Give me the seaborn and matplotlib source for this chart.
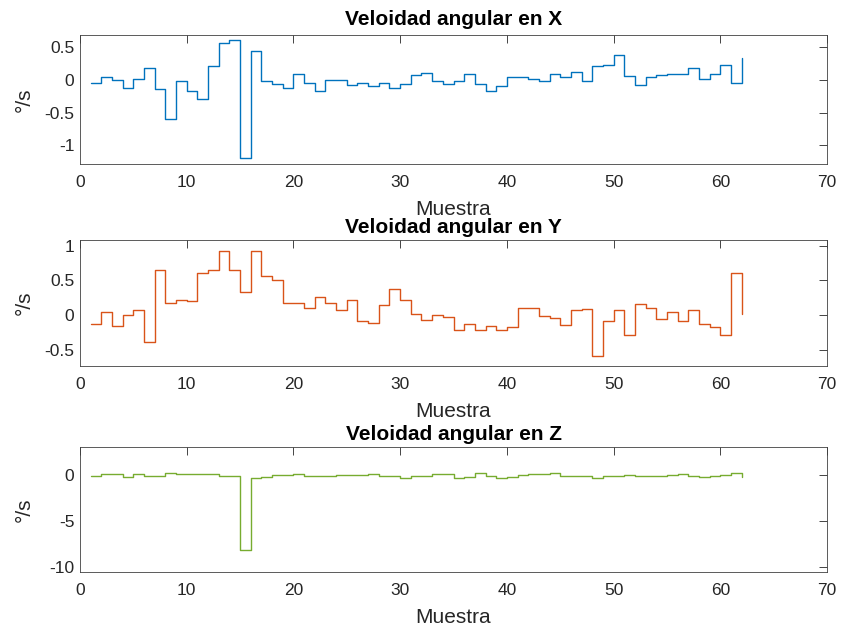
import matplotlib
matplotlib.use("Agg")
import matplotlib.pyplot as plt
import pandas as pd
import seaborn as sns

# Sample index and angular velocity readings (deg/s) per axis
muestra = list(range(1, 63))

vel_x = [-0.04, 0.04, 0.00, -0.13, 0.02, 0.19, -0.14, -0.60, -0.02, -0.17,
         -0.29, 0.22, 0.57, 0.62, -1.20, 0.44, -0.01, -0.06, -0.13, 0.09,
         -0.05, -0.17, 0.00, 0.00, -0.08, -0.05, -0.09, -0.05, -0.13, -0.06,
         0.08, 0.10, -0.02, -0.06, -0.02, 0.09, -0.06, -0.17, -0.09, 0.05,
         0.04, 0.02, -0.02, 0.09, 0.05, 0.12, -0.02, 0.21, 0.23, 0.38,
         0.06, -0.07, 0.05, 0.08, 0.09, 0.09, 0.19, 0.02, 0.09, 0.23,
         -0.04, 0.34]

vel_y = [-0.13, 0.04, -0.15, 0.00, 0.07, -0.38, 0.65, 0.17, 0.22, 0.20,
         0.60, 0.65, 0.92, 0.65, 0.34, 0.92, 0.57, 0.51, 0.17, 0.17,
         0.10, 0.26, 0.17, 0.08, 0.22, -0.08, -0.11, 0.14, 0.38, 0.22,
         0.01, -0.07, 0.00, -0.03, -0.21, -0.12, -0.21, -0.15, -0.21, -0.17,
         0.10, 0.10, -0.01, -0.04, -0.14, 0.08, 0.09, -0.59, -0.09, 0.07,
         -0.28, 0.16, 0.11, -0.06, 0.04, -0.09, 0.08, -0.12, -0.17, -0.29,
         0.60, 0.01]

vel_z = [-0.10, 0.17, 0.10, -0.15, 0.10, -0.10, -0.10, 0.25, 0.10, 0.20,
         0.20, 0.10, -0.05, -0.10, -8.20, -0.30, -0.15, 0.05, 0.05, 0.20,
         -0.10, -0.05, -0.05, 0.00, 0.05, 0.05, 0.10, -0.05, -0.05, -0.30,
         -0.05, -0.05, 0.10, 0.10, -0.25, -0.20, 0.25, -0.05, -0.25, -0.15,
         0.00, 0.15, 0.15, 0.25, -0.05, -0.05, -0.05, -0.25, -0.10, -0.10,
         0.05, -0.10, -0.10, -0.10, 0.05, 0.15, -0.05, -0.15, -0.05, 0.00,
         0.25, -0.15]

titulos = ["Veloidad angular en X", "Veloidad angular en Y", "Veloidad angular en Z"]
colores = ["#0072BD", "#D95319", "#77AC30"]
x_ticks = [0, 10, 20, 30, 40, 50, 60, 70]
y_ticks = [[-1, -0.5, 0, 0.5], [-0.5, 0, 0.5, 1], [-10, -5, 0]]
y_lims = [(-1.29, 0.69), (-0.73, 1.08), (-10.55, 3.1)]
title_pads = [7, 5, 5]

df = pd.DataFrame({"Muestra": muestra, "X": vel_x, "Y": vel_y, "Z": vel_z})

sns.set_theme(style="white")
plt.rcParams["font.family"] = ["Liberation Sans", "DejaVu Sans"]
plt.rcParams["axes.unicode_minus"] = False

fig = plt.figure(figsize=(8.45, 6.3), dpi=100)
fig.patch.set_facecolor("white")

# axes boxes in figure fractions: left, bottom, width, height
posiciones = [
    (0.0947, 1 - 164 / 630, 0.884, 129 / 630),
    (0.0947, 1 - 366 / 630, 0.884, 126 / 630),
    (0.0947, 1 - 572 / 630, 0.884, 125 / 630),
]

eje_color = "#262626"
for col, titulo, color, yt, yl, pos, tpad in zip(["X", "Y", "Z"], titulos, colores,
                                                 y_ticks, y_lims, posiciones,
                                                 title_pads):
    ax = fig.add_axes(pos)
    sns.lineplot(data=df, x="Muestra", y=col, ax=ax, color=color,
                 drawstyle="steps-post", linewidth=1.0, errorbar=None)
    ax.set_xlim(0, 70)
    ax.set_ylim(*yl)
    ax.set_xticks(x_ticks)
    ax.set_yticks(yt)
    ax.set_yticklabels([f"{v:g}" for v in yt])
    ax.set_title(titulo, fontsize=15, fontweight="bold", color="black", pad=tpad)
    ax.set_xlabel("Muestra", fontsize=15, color=eje_color, labelpad=7)
    ax.set_ylabel("°/s", fontsize=15, color=eje_color)
    ax.yaxis.set_label_coords(-0.062, 0.5)
    ax.tick_params(axis="both", which="both", direction="in", length=5.5,
                   width=0.6, color=eje_color, labelcolor=eje_color,
                   labelsize=12.5, top=True, right=True)
    ax.tick_params(axis="x", pad=8)
    ax.tick_params(axis="y", pad=4)
    for sp in ax.spines.values():
        sp.set_visible(True)
        sp.set_color("#404040")
        sp.set_linewidth(0.6)
    ax.set_facecolor("white")

fig.savefig("out.png", dpi=100, facecolor="white")
